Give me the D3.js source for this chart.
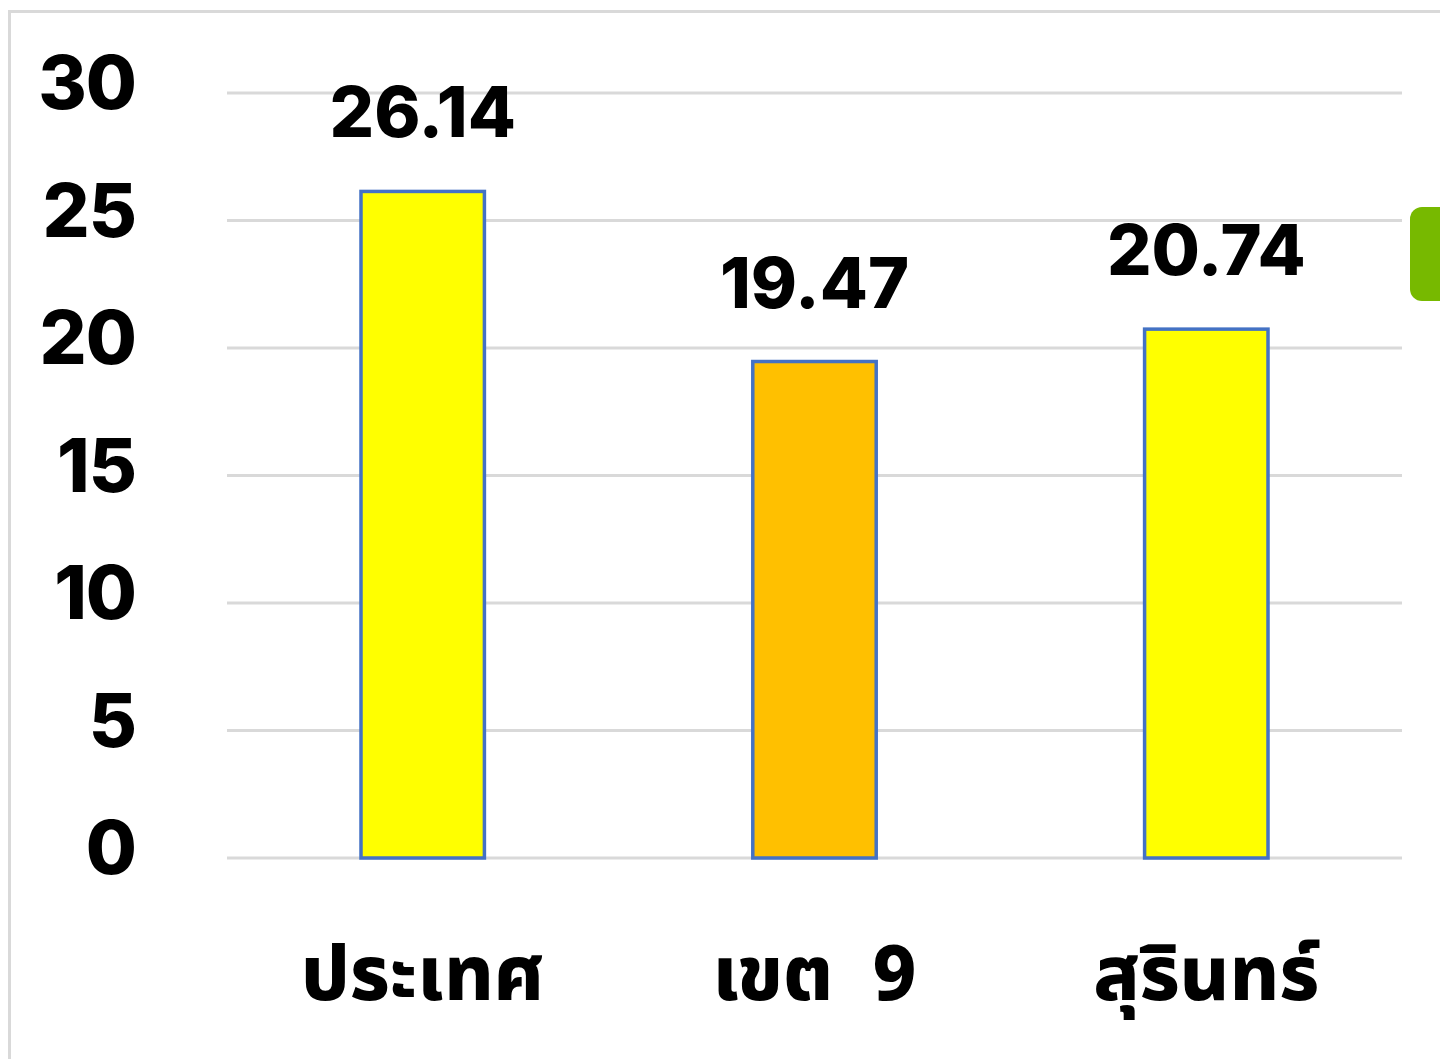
<!DOCTYPE html>
<html>
<head>
<meta charset="utf-8">
<script src="https://cdn.jsdelivr.net/npm/d3@7"></script>
<style>
  body { margin: 0; background: #fff; }
  svg { display: block; }
  text { font-family: "Noto Sans Thai", "Noto Sans", "DejaVu Sans", sans-serif; font-weight: 800; fill: #000; }
  text.num { font-family: Inter, "Noto Sans", sans-serif; font-weight: 800; }
</style>
</head>
<body>
<div id="chart"></div>
<script>
const categories = ["ประเทศ", "เขต  9", "สุรินทร์"];
const values = [26.14, 19.47, 20.74];
const barColors = ["#ffff00", "#ffc000", "#ffff00"];
const yTicks = [0, 5, 10, 15, 20, 25, 30];

let width = 1440, height = 1059;

const svg = d3.select("#chart")
    .append("svg")
    .attr("width", width)
    .attr("height", height);

// outer frame of the pasted chart
svg.append("rect")
    .attr("x", 9.5).attr("y", 11.5)
    .attr("width", 1500).attr("height", 1100)
    .attr("fill", "#fff")
    .attr("stroke", "#d9d9d9")
    .attr("stroke-width", 3);

// green tab peeking in on the right
svg.append("rect")
    .attr("x", 1410).attr("y", 207)
    .attr("width", 60).attr("height", 94)
    .attr("rx", 12)
    .attr("fill", "#77b900");

const x = d3.scaleBand()
    .domain(categories)
    .range([227, 1402])
    .paddingInner(0.685)
    .paddingOuter(0.342);

const y = d3.scaleLinear()
    .domain([0, 30])
    .range([858, 93]);

// gridlines
svg.append("g")
    .selectAll("line")
    .data(yTicks)
    .join("line")
    .attr("x1", 227).attr("x2", 1402)
    .attr("y1", d => y(d)).attr("y2", d => y(d))
    .attr("stroke", "#d9d9d9")
    .attr("stroke-width", 3);

// y tick labels
svg.append("g")
    .selectAll("text")
    .data(yTicks)
    .join("text")
    .attr("class", "num")
    .attr("x", 136)
    .attr("y", d => y(d) + 16)
    .attr("text-anchor", "end")
    .attr("font-size", 74)
    .attr("letter-spacing", -1)
    .text(d => d);

// bars
svg.append("g")
    .selectAll("rect")
    .data(values)
    .join("rect")
    .attr("x", (d, i) => x(categories[i]))
    .attr("y", d => y(d))
    .attr("width", x.bandwidth())
    .attr("height", d => y(0) - y(d))
    .attr("fill", (d, i) => barColors[i])
    .attr("stroke", "#4472c4")
    .attr("stroke-width", 3.5);

// value labels
svg.append("g")
    .selectAll("text")
    .data(values)
    .join("text")
    .attr("class", "num")
    .attr("x", (d, i) => x(categories[i]) + x.bandwidth() / 2)
    .attr("y", d => y(d) - 54)
    .attr("text-anchor", "middle")
    .attr("font-size", 70)
    .attr("letter-spacing", 0)
    .text(d => d.toFixed(2));

// category labels
svg.append("g")
    .selectAll("text")
    .data(categories)
    .join("text")
    .attr("x", d => x(d) + x.bandwidth() / 2)
    .attr("y", 1000)
    .attr("text-anchor", "middle")
    .attr("font-size", 76)
    .style("white-space", "pre")
    .text(d => d);
</script>
</body>
</html>
